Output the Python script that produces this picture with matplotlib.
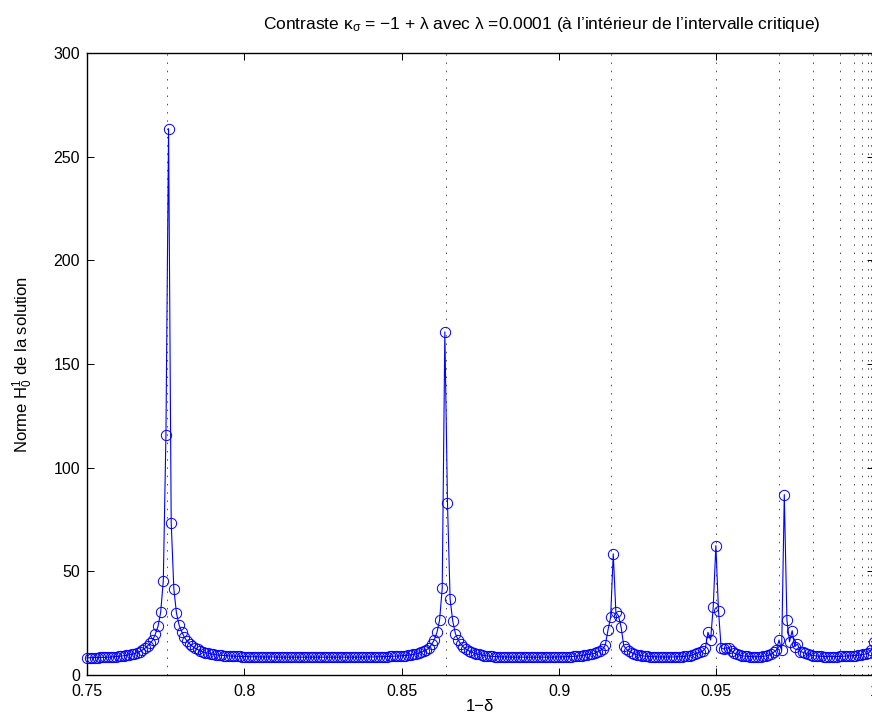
import numpy as np
import matplotlib
matplotlib.use('Agg')
import matplotlib.pyplot as plt

plt.rcParams['font.family'] = ['Liberation Sans', 'DejaVu Sans']
plt.rcParams['mathtext.fontset'] = 'custom'
plt.rcParams['mathtext.rm'] = 'Liberation Sans'
plt.rcParams['mathtext.it'] = 'Liberation Sans:italic'
plt.rcParams['mathtext.bf'] = 'Liberation Sans:bold'

# ---- data ----
x_start, x_stop = 0.75, 1.0
norme = [
    8.3, 8.3, 8.4, 8.4, 8.4, 8.5, 8.5, 8.5, 8.6, 8.6,
    8.8, 8.9, 9.0, 9.1, 9.3, 9.5, 9.7, 10.0, 10.3, 10.8,
    11.3, 12.0, 12.9, 14.0, 15.3, 16.9, 19.8, 23.5, 30.3, 45.5,
    115.9, 263.5, 73.5, 41.6, 29.8, 24.1, 20.9, 18.2, 16.4, 15.0,
    13.9, 13.0, 12.3, 11.7, 11.2, 10.8, 10.5, 10.2, 10.0, 9.8,
    9.6, 9.5, 9.4, 9.3, 9.2, 9.1, 9.1, 9.0, 9.0, 8.9,
    8.9, 8.9, 8.8, 8.8, 8.8, 8.8, 8.7, 8.7, 8.7, 8.7,
    8.7, 8.7, 8.6, 8.6, 8.6, 8.6, 8.6, 8.6, 8.6, 8.6,
    8.6, 8.6, 8.6, 8.6, 8.6, 8.6, 8.6, 8.6, 8.6, 8.6,
    8.6, 8.6, 8.6, 8.6, 8.6, 8.6, 8.6, 8.6, 8.6, 8.6,
    8.6, 8.6, 8.6, 8.6, 8.6, 8.6, 8.7, 8.7, 8.7, 8.7,
    8.8, 8.8, 8.8, 8.9, 8.9, 9.0, 9.0, 9.1, 9.1, 9.2,
    9.3, 9.4, 9.5, 9.7, 9.9, 10.2, 10.5, 11.0, 11.5, 12.2,
    13.0, 14.8, 17.0, 20.5, 26.5, 41.8, 165.5, 83.0, 36.5, 26.0,
    20.0, 17.0, 15.0, 13.6, 12.5, 11.7, 11.1, 10.6, 10.2, 9.9,
    9.6, 9.4, 9.2, 9.1, 9.0, 8.9, 8.8, 8.8, 8.7, 8.7,
    8.7, 8.6, 8.6, 8.6, 8.6, 8.6, 8.6, 8.6, 8.6, 8.6,
    8.6, 8.6, 8.6, 8.6, 8.6, 8.6, 8.6, 8.6, 8.7, 8.7,
    8.7, 8.8, 8.8, 8.9, 8.9, 9.0, 9.1, 9.2, 9.4, 9.6,
    9.8, 10.0, 10.2, 10.4, 11.2, 11.8, 12.5, 14.5, 21.7, 27.8,
    58.4, 30.2, 28.5, 23.0, 14.0, 12.5, 11.5, 10.8, 10.2, 9.8,
    9.5, 9.3, 9.1, 9.0, 8.9, 8.8, 8.8, 8.7, 8.7, 8.7,
    8.7, 8.7, 8.7, 8.7, 8.8, 8.8, 8.9, 9.0, 9.1, 9.3,
    9.6, 10.0, 10.6, 11.0, 11.5, 12.9, 20.6, 16.9, 33.0, 62.4,
    31.0, 13.2, 12.5, 13.2, 13.0, 11.5, 10.5, 10.0, 9.6, 9.3,
    9.1, 9.0, 8.9, 8.8, 8.8, 8.8, 8.9, 9.0, 9.2, 9.5,
    10.0, 11.0, 12.0, 16.9, 12.0, 87.0, 26.5, 16.0, 21.4, 13.7,
    15.0, 11.3, 11.0, 10.5, 10.0, 9.6, 9.4, 9.2, 9.1, 9.0,
    8.9, 8.9, 8.9, 8.9, 8.9, 8.9, 9.0, 9.0, 9.1, 9.2,
    9.2, 9.3, 9.4, 9.5, 9.7, 9.9, 10.2, 10.6, 12.0, 16.0,
]
resonances = [0.7755, 0.8640, 0.9166, 0.9500, 0.9699, 0.9808, 0.9894,
              0.9937, 0.9964, 0.9982, 0.9990, 0.9997]
x_ticks = [0.75, 0.8, 0.85, 0.9, 0.95, 1.0]
x_tick_labels = ['0.75', '0.8', '0.85', '0.9', '0.95', '1']
y_ticks = [0, 50, 100, 150, 200, 250, 300]
y_tick_labels = ['0', '50', '100', '150', '200', '250', '300']

x = np.linspace(x_start, x_stop, len(norme))

fig = plt.figure(figsize=(8.72, 7.22), dpi=100)
ax = fig.add_axes([87 / 872, 1 - 675 / 722, 1 - 87 / 872 + 0.002, (675 - 53) / 722])

for r in resonances:
    ax.axvline(r, color='0.3', lw=0.7, dashes=(1.5, 7), zorder=1)

ax.plot(x, norme, color='#0000ff', lw=0.8, marker='o', markersize=7.4,
        markerfacecolor='none', markeredgecolor='#0000ff', markeredgewidth=0.7,
        zorder=3, clip_on=False)

ax.set_xlim(0.75, 1.0)
ax.set_ylim(0, 300)
ax.set_xticks(x_ticks)
ax.set_xticklabels(x_tick_labels)
ax.set_yticks(y_ticks)
ax.set_yticklabels(y_tick_labels)
ax.tick_params(direction='in', length=5, width=0.7, top=True, right=True,
               labelsize=11.5)
ax.tick_params(axis='x', pad=6.5)
ax.tick_params(axis='y', pad=5)
for s in ax.spines.values():
    s.set_linewidth(1.0)

ax.set_xlabel('1\u2212\u03b4', fontsize=12, labelpad=0)
ax.set_ylabel('Norme H$^1_0$ de la solution', fontsize=12, labelpad=13)
fig.text(542 / 872, 1 - 25 / 722,
         'Contraste \u03ba$_{\\mathrm{\u03c3}}$ = \u22121 + \u03bb avec \u03bb =0.0001 '
         '(\u00e0 l\u2019int\u00e9rieur de l\u2019intervalle critique)',
         fontsize=12.5, ha='center', va='center')

fig.savefig('out.png', dpi=100)
